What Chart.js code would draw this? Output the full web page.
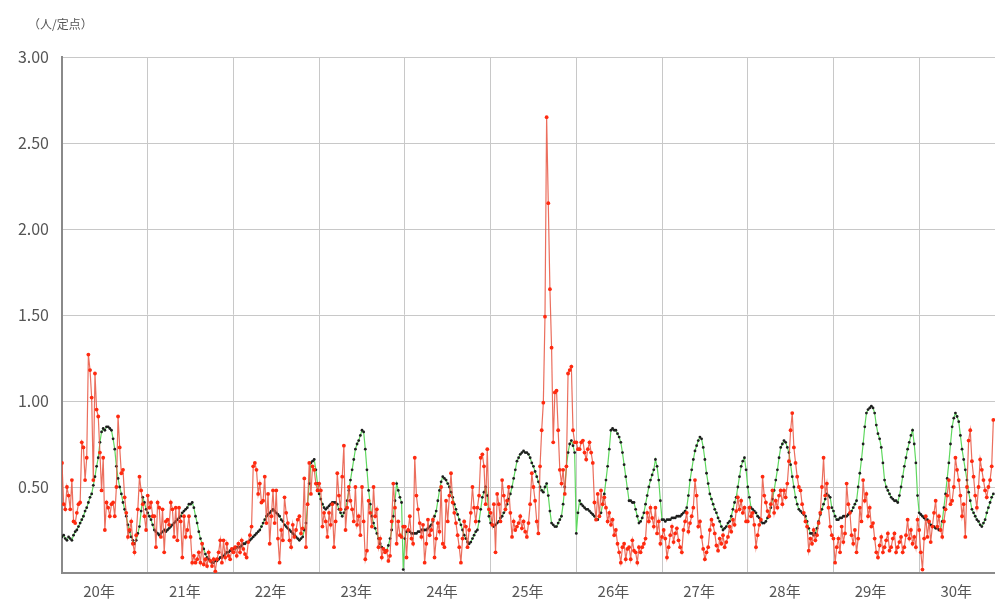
<!DOCTYPE html>
<html><head><meta charset="utf-8">
<script src="https://cdn.jsdelivr.net/npm/chart.js@4.4.1/dist/chart.umd.min.js"></script>
<style>html,body{margin:0;padding:0;background:#fff;overflow:hidden}canvas{display:block}</style>
</head><body>
<canvas id="c" width="995" height="605"></canvas>
<script>
// ---- data ----
const unitLabel = '（人/定点）';
const yearLabels = ['20年','21年','22年','23年','24年','25年','26年','27年','28年','29年','30年'];
const yTickValues = [0, 0.5, 1.0, 1.5, 2.0, 2.5, 3.0];

// national (green line, black points), weekly values per year
const green20 = [0.21,0.22,0.20,0.19,0.21,0.20,0.19,0.22,0.24,0.25,0.27,0.29,0.31,0.33,0.36,0.38,0.41,0.44,0.46,0.51,0.56,0.62,0.67,0.76,0.82,0.84,0.83,0.85,0.85,0.84,0.83,0.78,0.72,0.62,0.55,0.50,0.46,0.41,0.37,0.33,0.28,0.24,0.21,0.19,0.17,0.19,0.23,0.27,0.36,0.44,0.41,0.37];
const green21 = [0.35,0.33,0.31,0.28,0.25,0.24,0.23,0.22,0.23,0.24,0.25,0.24,0.25,0.26,0.27,0.28,0.29,0.30,0.31,0.32,0.33,0.35,0.36,0.37,0.38,0.40,0.40,0.41,0.38,0.33,0.29,0.24,0.20,0.17,0.14,0.11,0.09,0.08,0.07,0.06,0.06,0.07,0.07,0.08,0.09,0.09,0.10,0.11,0.12,0.12,0.13,0.13];
const green22 = [0.14,0.14,0.15,0.15,0.15,0.16,0.17,0.17,0.18,0.18,0.19,0.20,0.21,0.22,0.23,0.24,0.25,0.27,0.29,0.31,0.33,0.34,0.35,0.36,0.37,0.36,0.35,0.34,0.33,0.31,0.30,0.28,0.27,0.26,0.25,0.24,0.23,0.22,0.21,0.20,0.19,0.20,0.21,0.25,0.29,0.40,0.52,0.64,0.65,0.66,0.60,0.52];
const green23 = [0.46,0.43,0.40,0.38,0.37,0.38,0.39,0.40,0.41,0.41,0.41,0.40,0.37,0.35,0.33,0.35,0.37,0.42,0.48,0.54,0.60,0.66,0.72,0.75,0.77,0.80,0.83,0.82,0.72,0.60,0.48,0.40,0.33,0.29,0.26,0.23,0.20,0.17,0.15,0.14,0.13,0.13,0.16,0.20,0.25,0.33,0.42,0.52,0.48,0.44,0.41,0.02];
const green24 = [0.20,0.24,0.25,0.24,0.23,0.23,0.23,0.23,0.24,0.24,0.25,0.25,0.25,0.25,0.26,0.27,0.28,0.30,0.33,0.36,0.42,0.48,0.53,0.56,0.55,0.54,0.52,0.50,0.47,0.44,0.40,0.37,0.34,0.31,0.28,0.25,0.22,0.20,0.18,0.17,0.18,0.20,0.22,0.24,0.25,0.30,0.37,0.44,0.47,0.50,0.45,0.33];
const green25 = [0.29,0.28,0.27,0.28,0.29,0.30,0.32,0.33,0.35,0.37,0.40,0.43,0.46,0.50,0.55,0.60,0.65,0.67,0.69,0.70,0.71,0.70,0.70,0.69,0.67,0.64,0.62,0.59,0.56,0.53,0.50,0.48,0.47,0.50,0.52,0.45,0.36,0.29,0.28,0.27,0.27,0.29,0.31,0.33,0.40,0.50,0.62,0.70,0.75,0.77,0.74,0.70];
const green26 = [0.23,0.35,0.42,0.40,0.39,0.38,0.37,0.37,0.36,0.35,0.34,0.33,0.31,0.31,0.33,0.35,0.40,0.46,0.54,0.62,0.72,0.83,0.84,0.83,0.83,0.81,0.79,0.76,0.70,0.63,0.56,0.49,0.42,0.42,0.41,0.41,0.37,0.33,0.29,0.30,0.32,0.35,0.40,0.45,0.50,0.54,0.57,0.60,0.66,0.62,0.54,0.42];
const green27 = [0.31,0.31,0.30,0.31,0.31,0.31,0.32,0.32,0.32,0.33,0.33,0.33,0.34,0.35,0.36,0.38,0.45,0.54,0.60,0.66,0.71,0.74,0.77,0.79,0.78,0.73,0.66,0.58,0.52,0.46,0.43,0.40,0.37,0.35,0.32,0.30,0.27,0.25,0.26,0.27,0.29,0.30,0.33,0.37,0.41,0.44,0.50,0.56,0.62,0.65,0.67,0.60];
const green28 = [0.50,0.44,0.38,0.37,0.36,0.35,0.33,0.32,0.30,0.29,0.29,0.30,0.32,0.33,0.38,0.43,0.48,0.54,0.60,0.67,0.73,0.75,0.77,0.76,0.73,0.70,0.63,0.56,0.50,0.44,0.40,0.37,0.36,0.35,0.34,0.33,0.30,0.26,0.23,0.23,0.22,0.23,0.26,0.30,0.34,0.37,0.40,0.43,0.46,0.45,0.44,0.38];
const green29 = [0.36,0.33,0.31,0.31,0.32,0.32,0.33,0.33,0.33,0.34,0.35,0.36,0.38,0.40,0.42,0.50,0.58,0.66,0.75,0.85,0.93,0.95,0.96,0.97,0.96,0.93,0.86,0.81,0.78,0.73,0.64,0.54,0.50,0.48,0.46,0.44,0.43,0.42,0.42,0.41,0.45,0.50,0.56,0.62,0.67,0.72,0.76,0.80,0.83,0.75,0.64,0.45];
const green30 = [0.35,0.34,0.33,0.32,0.31,0.31,0.29,0.28,0.27,0.27,0.26,0.26,0.25,0.25,0.30,0.38,0.46,0.55,0.64,0.75,0.85,0.90,0.93,0.91,0.88,0.80,0.72,0.66,0.60,0.54,0.47,0.42,0.37,0.35,0.33,0.31,0.30,0.28,0.27,0.29,0.31,0.35,0.38,0.41,0.44,0.46];

// local (red line, red points), weekly values per year
const red20 = [0.64,0.40,0.37,0.50,0.45,0.37,0.54,0.30,0.29,0.35,0.40,0.41,0.76,0.73,0.54,0.67,1.27,1.18,1.02,0.54,1.16,0.95,0.91,0.70,0.48,0.67,0.25,0.41,0.38,0.33,0.40,0.41,0.33,0.50,0.91,0.73,0.58,0.60,0.44,0.35,0.21,0.25,0.30,0.17,0.12,0.22,0.37,0.56,0.48,0.40,0.33,0.25];
const red21 = [0.45,0.38,0.41,0.33,0.33,0.15,0.41,0.38,0.21,0.37,0.12,0.30,0.31,0.28,0.41,0.37,0.21,0.38,0.19,0.38,0.30,0.09,0.33,0.21,0.25,0.33,0.21,0.06,0.10,0.06,0.08,0.12,0.06,0.17,0.05,0.08,0.04,0.12,0.07,0.04,0.08,0.01,0.08,0.12,0.19,0.06,0.19,0.09,0.17,0.10,0.08,0.14];
const red22 = [0.12,0.15,0.10,0.17,0.12,0.19,0.14,0.11,0.09,0.18,0.22,0.27,0.62,0.64,0.60,0.46,0.52,0.41,0.42,0.56,0.29,0.46,0.17,0.33,0.48,0.29,0.48,0.20,0.06,0.25,0.19,0.44,0.35,0.29,0.19,0.15,0.28,0.21,0.25,0.31,0.33,0.23,0.26,0.55,0.15,0.40,0.64,0.46,0.62,0.60,0.52,0.48];
const red23 = [0.52,0.48,0.27,0.35,0.30,0.21,0.35,0.28,0.40,0.15,0.30,0.58,0.45,0.37,0.56,0.74,0.25,0.38,0.50,0.42,0.37,0.30,0.50,0.28,0.33,0.22,0.50,0.30,0.08,0.13,0.42,0.35,0.27,0.50,0.33,0.37,0.15,0.20,0.09,0.14,0.12,0.13,0.07,0.10,0.30,0.52,0.38,0.17,0.30,0.22,0.21,0.27];
const red24 = [0.27,0.09,0.25,0.33,0.20,0.17,0.67,0.45,0.37,0.29,0.21,0.28,0.06,0.17,0.31,0.22,0.25,0.31,0.09,0.20,0.29,0.24,0.50,0.17,0.15,0.42,0.30,0.45,0.58,0.41,0.35,0.29,0.22,0.15,0.06,0.20,0.30,0.27,0.15,0.25,0.35,0.50,0.38,0.30,0.38,0.45,0.67,0.69,0.62,0.40,0.72,0.37];
const red25 = [0.35,0.28,0.40,0.12,0.46,0.40,0.30,0.54,0.45,0.37,0.42,0.50,0.35,0.21,0.30,0.25,0.27,0.29,0.33,0.26,0.30,0.24,0.21,0.29,0.40,0.58,0.50,0.42,0.30,0.23,0.62,0.83,0.99,1.49,2.65,2.15,1.65,1.31,0.76,1.05,1.06,0.83,0.60,0.52,0.60,0.46,0.62,1.16,1.18,1.20,0.83,0.76];
const red26 = [0.76,0.72,0.72,0.76,0.77,0.70,0.66,0.72,0.76,0.70,0.64,0.41,0.31,0.46,0.33,0.48,0.40,0.44,0.38,0.30,0.35,0.28,0.31,0.22,0.25,0.17,0.12,0.06,0.15,0.17,0.08,0.14,0.15,0.08,0.19,0.13,0.12,0.06,0.15,0.12,0.15,0.17,0.20,0.35,0.30,0.38,0.32,0.27,0.38,0.23,0.30,0.17];
const red27 = [0.21,0.25,0.20,0.09,0.15,0.22,0.27,0.18,0.23,0.26,0.19,0.15,0.12,0.25,0.30,0.35,0.24,0.29,0.33,0.38,0.54,0.45,0.27,0.30,0.21,0.14,0.08,0.12,0.15,0.25,0.31,0.28,0.23,0.16,0.13,0.20,0.17,0.22,0.15,0.18,0.21,0.27,0.24,0.31,0.28,0.36,0.44,0.37,0.42,0.35,0.38,0.30];
const red28 = [0.30,0.38,0.33,0.35,0.28,0.15,0.22,0.28,0.31,0.56,0.45,0.41,0.36,0.33,0.40,0.48,0.35,0.42,0.38,0.45,0.48,0.40,0.48,0.44,0.52,0.65,0.83,0.93,0.73,0.64,0.56,0.50,0.48,0.40,0.35,0.30,0.27,0.13,0.20,0.17,0.25,0.19,0.22,0.29,0.35,0.50,0.67,0.45,0.52,0.38,0.27,0.22];
const red29 = [0.20,0.06,0.15,0.20,0.12,0.27,0.18,0.23,0.52,0.40,0.35,0.22,0.17,0.25,0.12,0.20,0.38,0.30,0.54,0.42,0.46,0.33,0.38,0.27,0.29,0.20,0.12,0.09,0.16,0.21,0.12,0.15,0.19,0.23,0.13,0.15,0.20,0.23,0.12,0.15,0.18,0.21,0.12,0.15,0.22,0.31,0.20,0.25,0.17,0.21,0.15,0.31];
const red30 = [0.25,0.12,0.02,0.20,0.33,0.21,0.30,0.18,0.27,0.35,0.42,0.27,0.33,0.25,0.21,0.30,0.37,0.45,0.54,0.40,0.42,0.50,0.67,0.60,0.54,0.45,0.33,0.40,0.21,0.50,0.77,0.83,0.65,0.56,0.45,0.38,0.50,0.66,0.60,0.54,0.48,0.44,0.50,0.54,0.62,0.89];

const weeksPerYear = 52;
// ---- build ----
const greenYears = [green20,green21,green22,green23,green24,green25,green26,green27,green28,green29,green30];
const redYears = [red20,red21,red22,red23,red24,red25,red26,red27,red28,red29,red30];
function toPoints(years){
  const pts = [];
  years.forEach((arr, k) => arr.forEach((v, i) => pts.push({x: k*weeksPerYear + i, y: v})));
  return pts;
}
const greenPts = toPoints(greenYears);
const redPts = toPoints(redYears);
const xMax = weeksPerYear*10 + green30.length;
const yearBounds = yearLabels.slice(1).map((_, k) => (k+1)*weeksPerYear);
const yearCenters = yearLabels.map((_, k) => k*weeksPerYear + 22.5);

const titlePlugin = {
  id: 'unitTitle',
  afterDraw(chart){
    const c = chart.ctx;
    c.save();
    c.font = '12px "Noto Sans CJK JP"';
    c.fillStyle = '#555';
    c.textBaseline = 'middle';
    c.textAlign = 'left';
    c.fillText(unitLabel, 28, 24);
    c.restore();
  }
};

const xFont = {family: '"Noto Sans CJK JP", "Noto Sans", sans-serif', size: 15};
const yFont = {family: '"Noto Sans CJK JP", "Noto Sans", sans-serif', size: 16};

new Chart(document.getElementById('c'), {
  type: 'line',
  data: {
    datasets: [
      {
        label: 'local', data: redPts, order: 0,
        borderColor: 'rgba(232,85,65,0.85)', borderWidth: 1.2, tension: 0,
        pointRadius: 1.9, pointBackgroundColor: '#ff2a10', pointBorderColor: '#ff2a10', pointBorderWidth: 0
      },
      {
        label: 'national', data: greenPts, order: 1,
        borderColor: '#5fd85f', borderWidth: 1.2, tension: 0,
        pointRadius: 1.4, pointBackgroundColor: '#1e1e1e', pointBorderColor: '#1e1e1e', pointBorderWidth: 0
      }
    ]
  },
  options: {
    responsive: false, animation: false, devicePixelRatio: 1,
    layout: {autoPadding: false, padding: {top: 57, right: 0, left: 0, bottom: 0}},
    plugins: {legend: {display: false}, tooltip: {enabled: false}},
    scales: {
      x: {
        type: 'linear', position: 'bottom', min: 0, max: xMax,
        afterBuildTicks: s => { s.ticks = yearBounds.map(v => ({value: v})); },
        ticks: {display: false},
        grid: {color: '#c8c8c8', lineWidth: 1, drawTicks: false},
        border: {color: '#8a8a8a', width: 2},
        afterFit: s => { s.height = 0; }
      },
      xl: {
        type: 'linear', position: 'bottom', min: 0, max: xMax,
        afterBuildTicks: s => { s.ticks = yearCenters.map(v => ({value: v})); },
        ticks: {callback: (v, i) => yearLabels[i], font: xFont, color: '#555', padding: 9, maxRotation: 0, autoSkip: false},
        grid: {display: false, drawTicks: false},
        border: {display: false},
        afterFit: s => { s.height = 32; }
      },
      y: {
        type: 'linear', min: 0, max: 3,
        afterBuildTicks: s => { s.ticks = yTickValues.map(v => ({value: v})); },
        ticks: {callback: v => v === 0 ? '' : v.toFixed(2), font: yFont, color: '#555', padding: 13},
        grid: {color: '#c8c8c8', lineWidth: 1, drawTicks: false},
        border: {color: '#8a8a8a', width: 2},
        afterFit: s => { s.width = 62; }
      }
    }
  },
  plugins: [titlePlugin]
});
</script>
</body></html>
